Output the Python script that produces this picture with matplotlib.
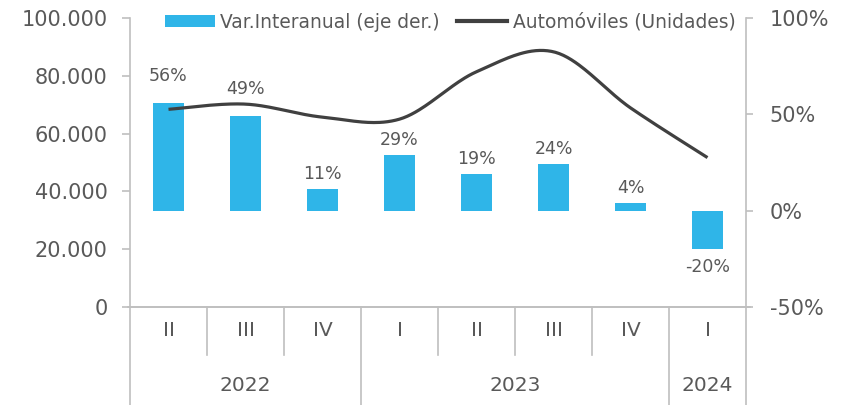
import numpy as np
import matplotlib.pyplot as plt
from matplotlib.patches import Patch
from matplotlib.lines import Line2D

plt.rcParams['font.family'] = ['DejaVu Sans']

trimestres = ['II', 'III', 'IV', 'I', 'II', 'III', 'IV', 'I']
anios = ['2022', '2023', '2024']
anio_grupos = [3, 4, 1]
automoviles = [68400, 70200, 65700, 65000, 81400, 88300, 68900, 51700]
var_interanual = [56, 49, 11, 29, 19, 24, 4, -20]
# separacion de las etiquetas (pt), las dos primeras movidas a mano en el original
desplaz_etiq = [13, 13, 4.5, 4.5, 4.5, 4.5, 4.5, 6]

azul = '#2FB5E8'
gris_linea = '#404040'
gris_eje = '#BFBFBF'
gris_texto = '#595959'


def suavizar(x, y, n=40):
    # curva tipo Excel (Catmull-Rom con Bezier)
    pts = np.column_stack([x, y]).astype(float)
    p = np.vstack([pts[0], pts, pts[-1]])
    t = np.linspace(0, 1, n)[:, None]
    out = []
    for i in range(1, len(p) - 2):
        p0, p1, p2, p3 = p[i - 1], p[i], p[i + 1], p[i + 2]
        c1 = p1 + (p2 - p0) / 6
        c2 = p2 - (p3 - p1) / 6
        seg = ((1 - t) ** 3) * p1 + 3 * ((1 - t) ** 2) * t * c1 + 3 * (1 - t) * t ** 2 * c2 + t ** 3 * p2
        out.append(seg if i == 1 else seg[1:])
    out = np.vstack(out)
    return out[:, 0], out[:, 1]


fig = plt.figure(figsize=(8.46, 4.05), dpi=100)
ax = fig.add_axes([130 / 846, 98 / 405, 616 / 846, 289 / 405])
ax2 = ax.twinx()
ax.set_zorder(ax2.get_zorder() + 1)
ax.patch.set_visible(False)

x = np.arange(len(trimestres))

# barras (eje derecho)
vals = np.array(var_interanual) / 100
ax2.bar(x, vals, width=0.39, color=azul, zorder=2)
for xi, v, d in zip(x, var_interanual, desplaz_etiq):
    if v >= 0:
        ax2.annotate(f'{v}%', (xi, v / 100), xytext=(0, d), textcoords='offset points',
                     ha='center', va='bottom', fontsize=12.5, color=gris_texto)
    else:
        ax2.annotate(f'{v}%', (xi, v / 100), xytext=(0, -d), textcoords='offset points',
                     ha='center', va='top', fontsize=12.5, color=gris_texto)

# linea (eje izquierdo)
xs, ys = suavizar(x, automoviles)
ax.plot(xs, ys, color=gris_linea, lw=2.3, solid_capstyle='butt', zorder=3)

ax.set_xlim(-0.5, len(trimestres) - 0.5)
ax.set_ylim(0, 100000)
ax.set_yticks(np.arange(0, 100001, 20000))
ax.set_yticklabels([f'{v:,.0f}'.replace(',', '.') for v in np.arange(0, 100001, 20000)])
ax2.set_ylim(-0.5, 1.0)
ax2.set_yticks([-0.5, 0, 0.5, 1.0])
ax2.set_yticklabels(['-50%', '0%', '50%', '100%'])

for a in (ax, ax2):
    for s in a.spines.values():
        s.set_color(gris_eje)
        s.set_linewidth(1.2)
    a.spines['top'].set_visible(False)
    a.set_xticks([])
ax.spines['right'].set_visible(False)
ax2.spines['left'].set_visible(False)
ax2.spines['bottom'].set_visible(False)
ax.spines['left'].set_bounds(0, 100000)

ax.tick_params(axis='y', length=6, width=1.2, color=gris_eje, labelsize=15, labelcolor=gris_texto, pad=10)
ax2.tick_params(axis='y', length=5, width=1.2, color=gris_eje, labelsize=15, labelcolor=gris_texto, pad=12)

# eje x de dos niveles
tr = ax.get_xaxis_transform()
for xi, lab in zip(x, trimestres):
    ax.text(xi, -0.08, lab, transform=tr, ha='center', va='center', fontsize=14.5, color=gris_texto)
inicio = 0
cortes = []
for anio, n in zip(anios, anio_grupos):
    ax.text(inicio + (n - 1) / 2, -0.27, anio, transform=tr, ha='center', va='center',
            fontsize=14.5, color=gris_texto)
    inicio += n
    cortes.append(inicio - 0.5)
for b in np.arange(-0.5, len(trimestres)):
    y_fin = -0.34 if (b == -0.5 or b in cortes) else -0.166
    ax.plot([b, b], [0, y_fin], transform=tr, color=gris_eje, lw=1.2, clip_on=False)
ax.plot([-0.5 - 0.02, len(trimestres) - 0.5 + 0.05], [0, 0], transform=tr, color=gris_eje, lw=1.2, clip_on=False)

handles = [Patch(facecolor=azul, label='Var.Interanual (eje der.)'),
           Line2D([], [], color=gris_linea, lw=3, label='Automóviles (Unidades)')]
fig.legend(handles=handles, loc='center', bbox_to_anchor=(450 / 846, 1 - 22 / 405), ncol=2,
           frameon=False, fontsize=13.4, handlelength=2.7, handleheight=0.55,
           handletextpad=0.3, columnspacing=0.9, labelcolor=gris_texto)

fig.savefig('out.png', dpi=100)
